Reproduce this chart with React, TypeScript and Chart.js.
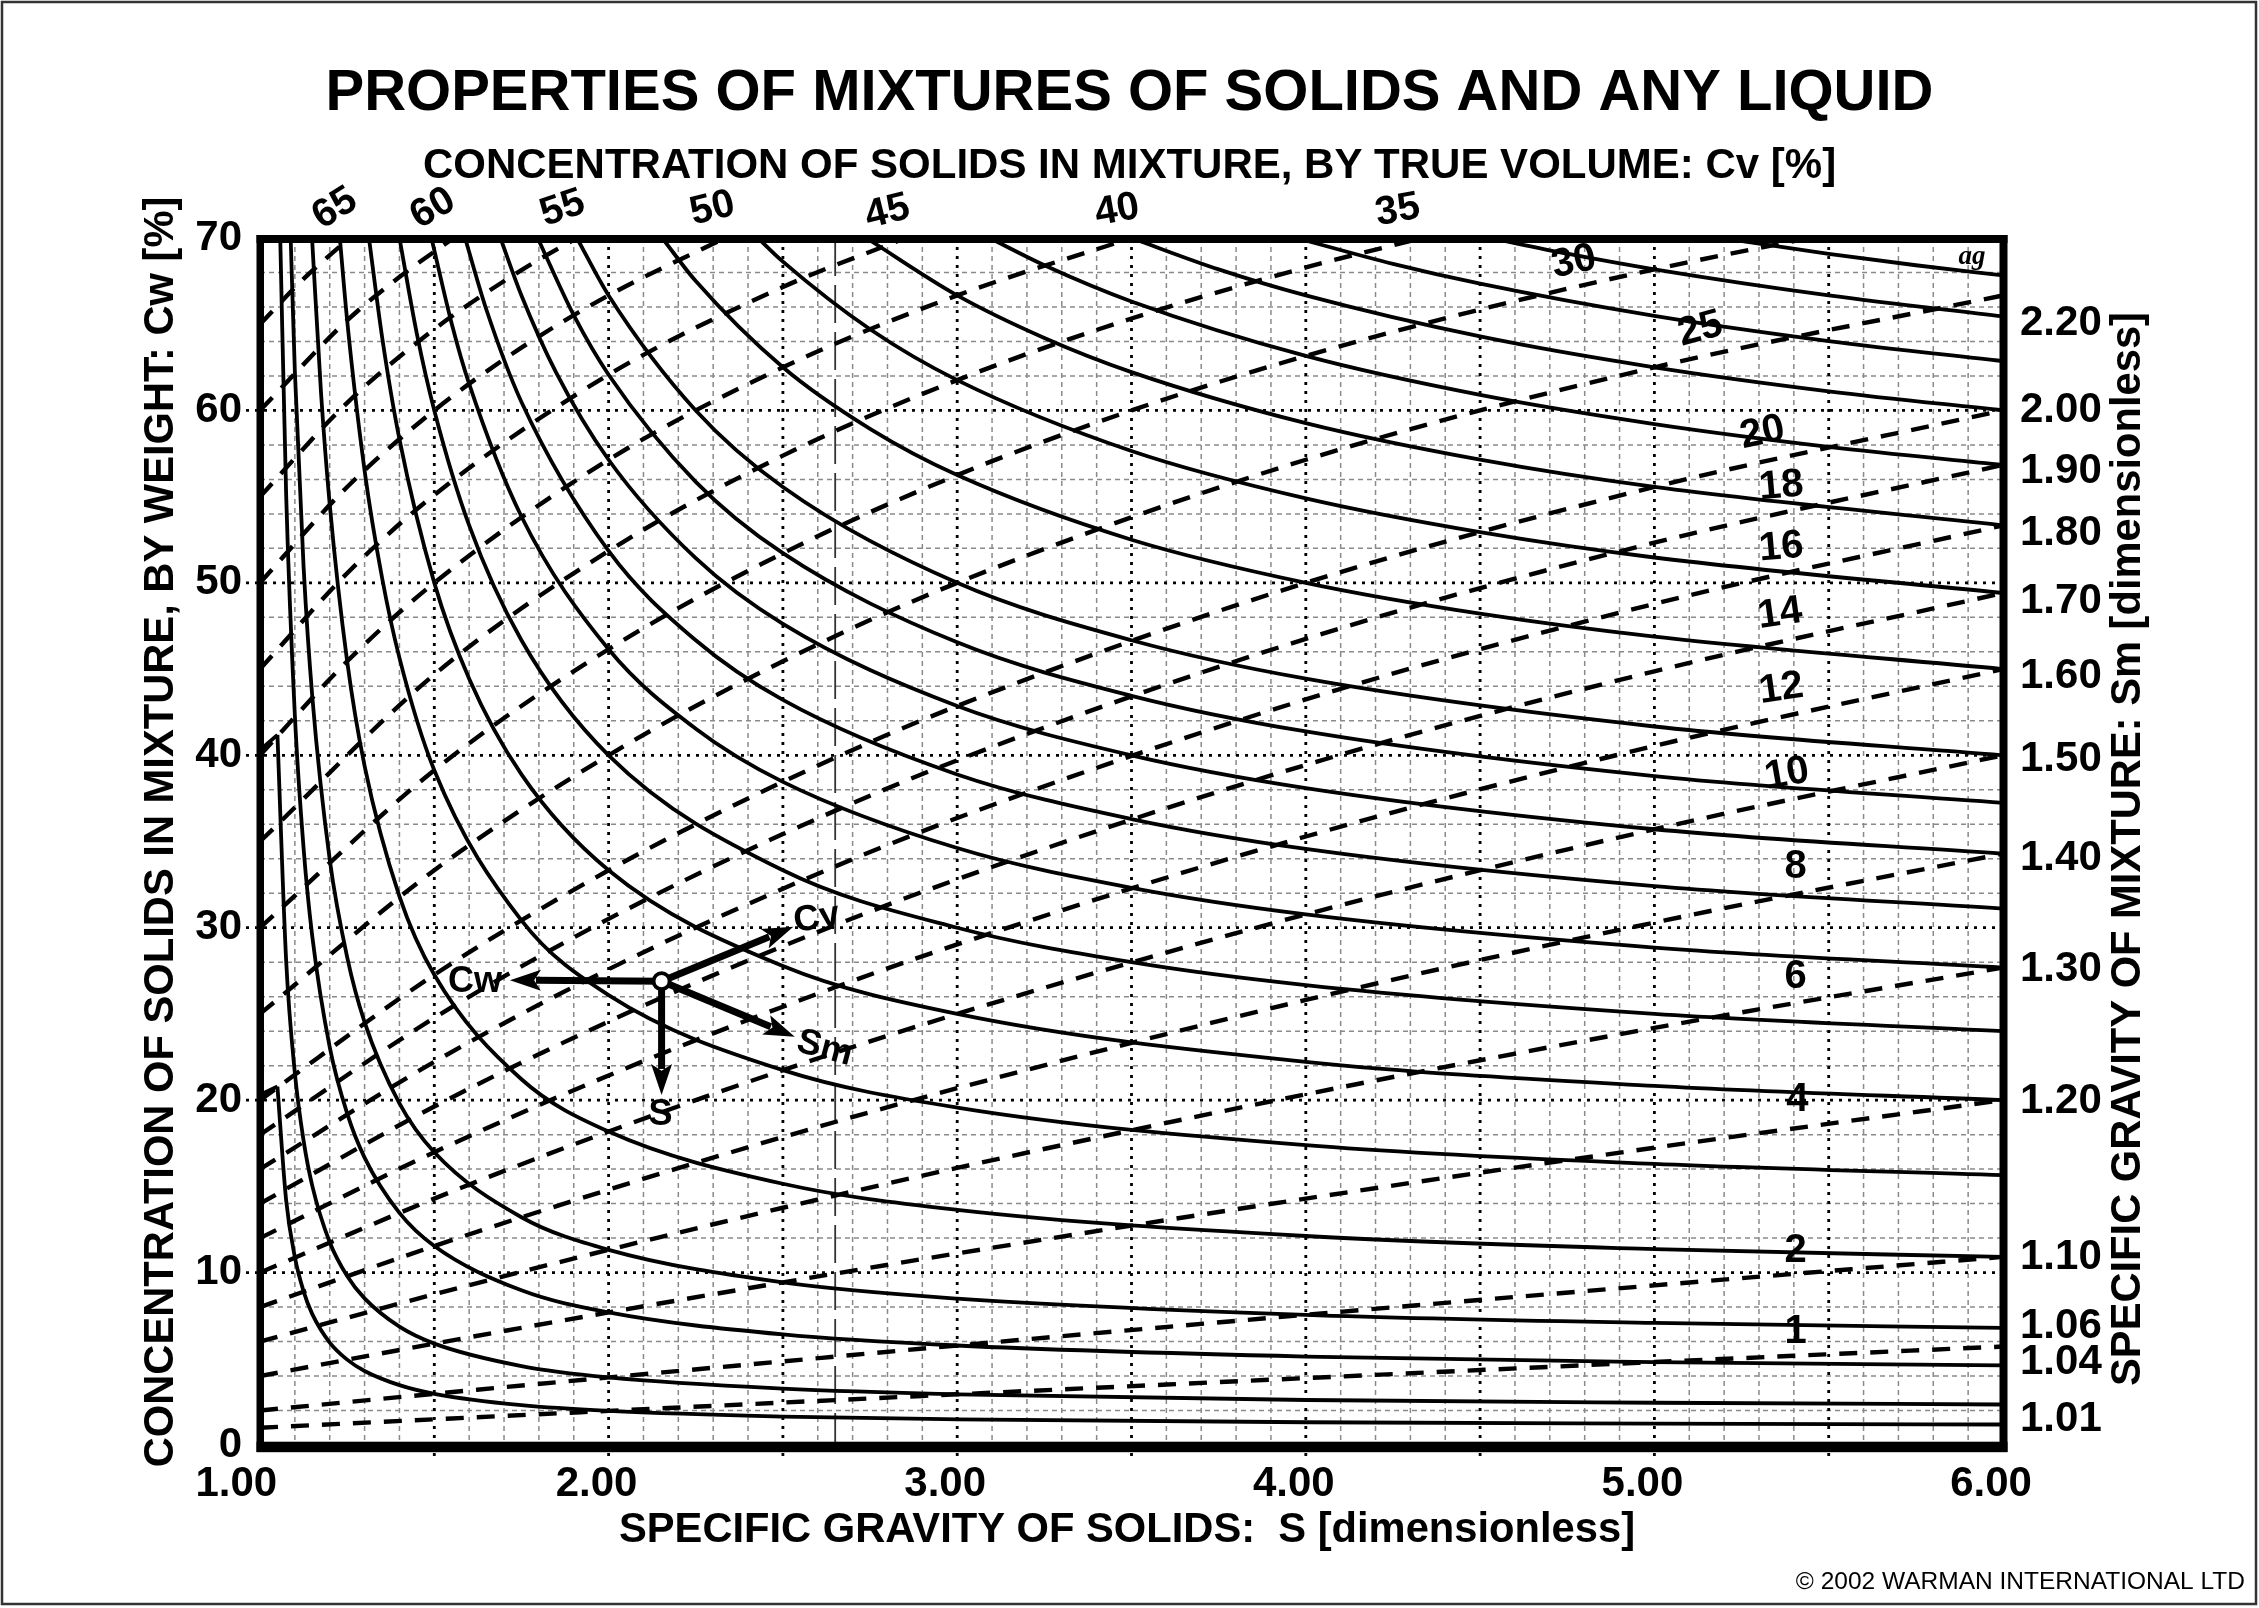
import React, { useEffect, useRef } from 'react';
import { Chart, registerables } from 'chart.js';

Chart.register(...registerables);

const SANS = '"Liberation Sans", Arial, Helvetica, sans-serif';
const SERIF = '"Liberation Serif", "Times New Roman", serif';

// ---------- texts ----------
const TITLE = 'PROPERTIES OF MIXTURES OF SOLIDS AND ANY LIQUID';
const SUBTITLE = 'CONCENTRATION OF SOLIDS IN MIXTURE, BY TRUE VOLUME: Cv [%]';
const X_TITLE = 'SPECIFIC GRAVITY OF SOLIDS:  S [dimensionless]';
const Y_TITLE = 'CONCENTRATION OF SOLIDS IN MIXTURE, BY WEIGHT: Cw [%]';
const Y2_TITLE = 'SPECIFIC GRAVITY OF MIXTURE: Sm [dimensionless]';
const COPYRIGHT = '\u00A9 2002 WARMAN INTERNATIONAL LTD';

// ---------- solid curves: constant Sm, points [S, Cw%] ----------
const SM_VALUES = ['1.01', '1.02', '1.04', '1.06', '1.10', '1.15', '1.20', '1.25', '1.30', '1.35', '1.40', '1.45', '1.50', '1.60', '1.70', '1.80', '1.90', '2.00', '2.10', '2.20', '2.30'];
const SM_101 = [[1.05, 20.79], [1.075, 14.19], [1.1, 10.89], [1.125, 8.91], [1.15, 7.59], [1.2, 5.94], [1.25, 4.95], [1.3, 4.29], [1.4, 3.47], [1.5, 2.97], [1.75, 2.31], [2, 1.98], [2.5, 1.65], [3, 1.49], [4, 1.32], [5, 1.24], [6, 1.19]];
const SM_102 = [[1.05, 41.18], [1.075, 28.1], [1.1, 21.57], [1.125, 17.65], [1.15, 15.03], [1.2, 11.76], [1.25, 9.8], [1.3, 8.5], [1.4, 6.86], [1.5, 5.88], [1.75, 4.58], [2, 3.92], [2.5, 3.27], [3, 2.94], [4, 2.61], [5, 2.45], [6, 2.35]];
const SM_104 = [[1.0581, 70], [1.075, 55.13], [1.1, 42.31], [1.125, 34.62], [1.15, 29.49], [1.2, 23.08], [1.25, 19.23], [1.3, 16.67], [1.4, 13.46], [1.5, 11.54], [1.75, 8.97], [2, 7.69], [2.5, 6.41], [3, 5.77], [4, 5.13], [5, 4.81], [6, 4.62]];
const SM_106 = [[1.088, 70], [1.1, 62.26], [1.125, 50.94], [1.15, 43.4], [1.2, 33.96], [1.25, 28.3], [1.3, 24.53], [1.4, 19.81], [1.5, 16.98], [1.75, 13.21], [2, 11.32], [2.5, 9.43], [3, 8.49], [4, 7.55], [5, 7.08], [6, 6.79]];
const SM_110 = [[1.1493, 70], [1.175, 61.04], [1.2, 54.55], [1.25, 45.45], [1.3, 39.39], [1.4, 31.82], [1.5, 27.27], [1.75, 21.21], [2, 18.18], [2.5, 15.15], [3, 13.64], [4, 12.12], [5, 11.36], [6, 10.91]];
const SM_115 = [[1.229, 70], [1.25, 65.22], [1.3, 56.52], [1.35, 50.31], [1.4, 45.65], [1.5, 39.13], [1.75, 30.43], [2, 26.09], [2.5, 21.74], [3, 19.57], [4, 17.39], [5, 16.3], [6, 15.65]];
const SM_120 = [[1.3125, 70], [1.35, 64.29], [1.4, 58.33], [1.5, 50.0], [1.6, 44.44], [1.75, 38.89], [2, 33.33], [2.5, 27.78], [3, 25.0], [4, 22.22], [5, 20.83], [6, 20.0]];
const SM_125 = [[1.4, 70], [1.45, 64.44], [1.5, 60.0], [1.6, 53.33], [1.75, 46.67], [2, 40.0], [2.5, 33.33], [3, 30.0], [3.5, 28.0], [4, 26.67], [5, 25.0], [6, 24.0]];
const SM_130 = [[1.4918, 70], [1.55, 65.03], [1.6, 61.54], [1.75, 53.85], [2, 46.15], [2.25, 41.54], [2.5, 38.46], [3, 34.62], [3.5, 32.31], [4, 30.77], [5, 28.85], [6, 27.69]];
const SM_135 = [[1.5882, 70], [1.65, 65.81], [1.75, 60.49], [2, 51.85], [2.25, 46.67], [2.5, 43.21], [3, 38.89], [3.5, 36.3], [4, 34.57], [5, 32.41], [6, 31.11]];
const SM_140 = [[1.6897, 70], [1.75, 66.67], [1.85, 62.18], [2, 57.14], [2.25, 51.43], [2.5, 47.62], [3, 42.86], [3.5, 40.0], [4, 38.1], [5, 35.71], [6, 34.29]];
const SM_145 = [[1.7965, 70], [1.9, 65.52], [2, 62.07], [2.25, 55.86], [2.5, 51.72], [3, 46.55], [3.5, 43.45], [4, 41.38], [5, 38.79], [6, 37.24]];
const SM_150 = [[1.9091, 70], [2, 66.67], [2.25, 60.0], [2.5, 55.56], [3, 50.0], [3.5, 46.67], [4, 44.44], [5, 41.67], [6, 40.0]];
const SM_160 = [[2.1538, 70], [2.25, 67.5], [2.5, 62.5], [2.75, 58.93], [3, 56.25], [3.5, 52.5], [4, 50.0], [4.5, 48.21], [5, 46.88], [6, 45.0]];
const SM_170 = [[2.4286, 70], [2.5, 68.63], [2.75, 64.71], [3, 61.76], [3.5, 57.65], [4, 54.9], [4.5, 52.94], [5, 51.47], [6, 49.41]];
const SM_180 = [[2.7391, 70], [3, 66.67], [3.25, 64.2], [3.5, 62.22], [4, 59.26], [4.5, 57.14], [5, 55.56], [6, 53.33]];
const SM_190 = [[3.093, 70], [3.25, 68.42], [3.5, 66.32], [4, 63.16], [4.5, 60.9], [5, 59.21], [5.5, 57.89], [6, 56.84]];
const SM_200 = [[3.5, 70], [3.75, 68.18], [4, 66.67], [4.5, 64.29], [5, 62.5], [5.5, 61.11], [6, 60.0]];
const SM_210 = [[3.973, 70], [4.25, 68.5], [4.5, 67.35], [5, 65.48], [5.5, 64.02], [6, 62.86]];
const SM_220 = [[4.5294, 70], [4.75, 69.09], [5, 68.18], [5.5, 66.67], [6, 65.45]];
const SM_230 = [[5.1935, 70], [5.5, 69.08], [5.75, 68.42], [6, 67.83]];
const SM_CURVES = [SM_101, SM_102, SM_104, SM_106, SM_110, SM_115, SM_120, SM_125, SM_130, SM_135, SM_140, SM_145, SM_150, SM_160, SM_170, SM_180, SM_190, SM_200, SM_210, SM_220, SM_230];
// short connector strokes at the top of the 1.01 and 1.02 curves
const SM_HOOKS = [[[1.0, 20.3], [1.05, 20.79]], [[1.0, 40.3], [1.05, 41.18]]];

// ---------- dashed lines: constant Cv, points [S, Cw%] ----------
const CV_VALUES = [1, 2, 4, 6, 8, 10, 12, 14, 16, 18, 20, 25, 30, 35, 40, 45, 50, 55, 60, 65];
const CV_1 = [[1, 1.0], [1.5, 1.49], [2, 1.98], [2.5, 2.46], [3, 2.94], [4, 3.88], [5, 4.81], [6, 5.71]];
const CV_2 = [[1, 2.0], [1.5, 2.97], [2, 3.92], [2.5, 4.85], [3, 5.77], [4, 7.55], [5, 9.26], [6, 10.91]];
const CV_4 = [[1, 4.0], [1.5, 5.88], [2, 7.69], [2.5, 9.43], [3, 11.11], [4, 14.29], [5, 17.24], [6, 20.0]];
const CV_6 = [[1, 6.0], [1.5, 8.74], [2, 11.32], [2.5, 13.76], [3, 16.07], [4, 20.34], [5, 24.19], [6, 27.69]];
const CV_8 = [[1, 8.0], [1.5, 11.54], [2, 14.81], [2.5, 17.86], [3, 20.69], [4, 25.81], [5, 30.3], [6, 34.29]];
const CV_10 = [[1, 10.0], [1.5, 14.29], [2, 18.18], [2.5, 21.74], [3, 25.0], [4, 30.77], [5, 35.71], [6, 40.0]];
const CV_12 = [[1, 12.0], [1.5, 16.98], [2, 21.43], [2.5, 25.42], [3, 29.03], [4, 35.29], [5, 40.54], [6, 45.0]];
const CV_14 = [[1, 14.0], [1.5, 19.63], [2, 24.56], [2.5, 28.93], [3, 32.81], [4, 39.44], [5, 44.87], [6, 49.41]];
const CV_16 = [[1, 16.0], [1.5, 22.22], [2, 27.59], [2.5, 32.26], [3, 36.36], [4, 43.24], [5, 48.78], [6, 53.33]];
const CV_18 = [[1, 18.0], [1.5, 24.77], [2, 30.51], [2.5, 35.43], [3, 39.71], [4, 46.75], [5, 52.33], [6, 56.84]];
const CV_20 = [[1, 20.0], [1.5, 27.27], [2, 33.33], [2.5, 38.46], [3, 42.86], [4, 50.0], [5, 55.56], [6, 60.0]];
const CV_25 = [[1, 25.0], [1.5, 33.33], [2, 40.0], [2.5, 45.45], [3, 50.0], [4, 57.14], [5, 62.5], [6, 66.67]];
const CV_30 = [[1, 30.0], [1.5, 39.13], [2, 46.15], [2.5, 51.72], [3, 56.25], [3.5, 60.0], [4, 63.16], [4.5, 65.85], [5, 68.18], [5.4444, 70]];
const CV_35 = [[1, 35.0], [1.5, 44.68], [2, 51.85], [2.5, 57.38], [3, 61.76], [3.5, 65.33], [4, 68.29], [4.3333, 70]];
const CV_40 = [[1, 40.0], [1.25, 45.45], [1.5, 50.0], [2, 57.14], [2.5, 62.5], [3, 66.67], [3.5, 70]];
const CV_45 = [[1, 45.0], [1.25, 50.56], [1.5, 55.1], [2, 62.07], [2.5, 67.16], [2.8519, 70]];
const CV_50 = [[1, 50.0], [1.25, 55.56], [1.5, 60.0], [1.75, 63.64], [2, 66.67], [2.3333, 70]];
const CV_55 = [[1, 55.0], [1.25, 60.44], [1.5, 64.71], [1.75, 68.14], [1.9091, 70]];
const CV_60 = [[1, 60.0], [1.25, 65.22], [1.4, 67.74], [1.5556, 70]];
const CV_65 = [[1, 65.0], [1.125, 67.63], [1.2564, 70]];
const CV_LINES = [CV_1, CV_2, CV_4, CV_6, CV_8, CV_10, CV_12, CV_14, CV_16, CV_18, CV_20, CV_25, CV_30, CV_35, CV_40, CV_45, CV_50, CV_55, CV_60, CV_65];

// Cv line labels (text, anchor in S / Cw, tilt in degrees)
const CV_LABEL_TEXT = ['1', '2', '4', '6', '8', '10', '12', '14', '16', '18', '20', '25', '30', '35', '40', '45', '50', '55', '60', '65'];
const CV_LABEL_S = [5.405, 5.405, 5.41, 5.405, 5.405, 5.38, 5.364, 5.36, 5.364, 5.364, 5.31, 5.132, 4.769, 4.264, 3.459, 2.8, 2.298, 1.868, 1.496, 1.215];
const CV_LABEL_CW = [6.55, 11.25, 20.0, 27.15, 33.55, 38.9, 43.85, 48.2, 52.05, 55.6, 58.7, 64.7, 68.6, 71.6, 71.6, 71.5, 71.7, 71.7, 71.7, 71.7];
const CV_LABEL_ANGLE = [0, 0, 0, 0, 0, -10, -8, -8, -5, -5, -12, -15, -12, -10, -10, -14, -14, -19, -30, -32];

// bottom S scale labels
const S_TICK_LABELS = ['1.00  ', '2.00', '3.00', '4.00', '5.00', '6.00'];

// right-hand Sm scale labels (at the Cw height where each sits)
const SM_TICK_LABELS = ['1.01', '1.04', '1.06', '1.10', '1.20', '1.30', '1.40', '1.50', '1.60', '1.70', '1.80', '1.90', '2.00', '2.20'];
const SM_TICK_CW = [1.5, 4.8, 6.9, 10.85, 19.9, 27.6, 34.0, 39.75, 44.6, 48.95, 52.85, 56.45, 60.0, 65.05];

// reference line (typical S of silica)
const REF_S = [2.65];

// key diagram: origin, arrow tips, labels (S, Cw)
const KEY_ORIGIN = [2.152, 26.9];
const KEY_TIPS = [[1.717, 26.96], [2.152, 20.3], [2.53, 30.05], [2.534, 23.67]];
const KEY_TEXT = ['Cw', 'S', 'Cv', 'Sm'];
const KEY_TEXT_POS = [[1.617, 26.86], [2.149, 19.13], [2.597, 30.54], [2.62, 23.0]];
const KEY_TEXT_ANGLE = [0, 0, -10, 15];

const AG_POS = [5.911, 68.88];

function txt(ctx: CanvasRenderingContext2D, s: string, x: number, y: number, font: string, align: CanvasTextAlign = 'center', angle = 0) {
  ctx.save();
  ctx.translate(x, y);
  if (angle) ctx.rotate((angle * Math.PI) / 180);
  ctx.font = font;
  ctx.textAlign = align;
  ctx.textBaseline = 'middle';
  ctx.fillStyle = '#000';
  ctx.fillText(s, 0, 0);
  ctx.restore();
}

function seg(ctx: CanvasRenderingContext2D, x0: number, y0: number, x1: number, y1: number) {
  ctx.beginPath();
  ctx.moveTo(x0, y0);
  ctx.lineTo(x1, y1);
  ctx.stroke();
}

function arrow(ctx: CanvasRenderingContext2D, x0: number, y0: number, x1: number, y1: number) {
  const ang = Math.atan2(y1 - y0, x1 - x0);
  const headLen = 31;
  const headW = 10.5;
  const bx = x1 - (headLen - 5) * Math.cos(ang);
  const by = y1 - (headLen - 5) * Math.sin(ang);
  ctx.lineWidth = 7;
  ctx.lineCap = 'butt';
  seg(ctx, x0, y0, bx, by);
  ctx.save();
  ctx.translate(x1, y1);
  ctx.rotate(ang);
  ctx.beginPath();
  ctx.moveTo(0, 0);
  ctx.lineTo(-headLen, -headW);
  ctx.lineTo(-headLen * 0.78, 0);
  ctx.lineTo(-headLen, headW);
  ctx.closePath();
  ctx.fill();
  ctx.restore();
}

const decor = {
  id: 'decor',
  beforeDraw(chart: any) {
    const { ctx, width, height } = chart;
    ctx.save();
    ctx.fillStyle = '#fff';
    ctx.fillRect(0, 0, width, height);
    ctx.restore();
  },
  beforeDatasetsDraw(chart: any) {
    const ctx: CanvasRenderingContext2D = chart.ctx;
    const a = chart.chartArea;
    const xs = chart.scales.x;
    const ys = chart.scales.y;
    ctx.save();
    ctx.lineCap = 'butt';
    // minor grid
    ctx.strokeStyle = '#8a8a8a';
    ctx.lineWidth = 1.5;
    ctx.setLineDash([5, 4]);
    for (let i = 11; i < 60; i++) {
      if (i % 5 === 0) continue;
      const px = xs.getPixelForValue(i / 10);
      seg(ctx, px, a.top, px, a.bottom);
    }
    for (let c = 2; c < 70; c += 2) {
      if (c % 10 === 0) continue;
      const py = ys.getPixelForValue(c);
      seg(ctx, a.left, py, a.right, py);
    }
    // major grid (dotted), extending out as ticks
    ctx.strokeStyle = '#000';
    ctx.lineWidth = 2.8;
    ctx.setLineDash([3, 6]);
    for (let i = 15; i < 60; i += 5) {
      const px = xs.getPixelForValue(i / 10);
      seg(ctx, px, a.top, px, a.bottom + 14);
    }
    for (let c = 10; c < 70; c += 10) {
      const py = ys.getPixelForValue(c);
      seg(ctx, a.left - 14, py, a.right, py);
    }
    // reference line
    ctx.strokeStyle = '#333';
    ctx.lineWidth = 1.8;
    ctx.setLineDash([38, 9]);
    REF_S.forEach((s) => {
      const px = xs.getPixelForValue(s);
      seg(ctx, px, a.top, px, a.bottom);
    });
    ctx.restore();
  },
  afterDatasetsDraw(chart: any) {
    const ctx: CanvasRenderingContext2D = chart.ctx;
    const xs = chart.scales.x;
    const ys = chart.scales.y;
    const X = (v: number) => xs.getPixelForValue(v);
    const Y = (v: number) => ys.getPixelForValue(v);
    ctx.save();
    // frame
    const L = X(1), R = X(6), T = Y(70), B = Y(0);
    ctx.fillStyle = '#000';
    ctx.fillRect(L - 3.5, T - 3, 7.5, B - T + 10);
    ctx.fillRect(R - 3.5, T - 3, 8, B - T + 10);
    ctx.fillRect(L - 3.5, T - 3, R - L + 8, 8);
    ctx.fillRect(L - 3.5, B - 3.3, R - L + 8, 10.5);

    // Cv labels
    CV_LABEL_TEXT.forEach((t, i) => {
      txt(ctx, t, X(CV_LABEL_S[i]), Y(CV_LABEL_CW[i]), `bold 40px ${SANS}`, 'center', CV_LABEL_ANGLE[i]);
    });

    // key diagram
    ctx.fillStyle = '#000';
    ctx.strokeStyle = '#000';
    const ox = X(KEY_ORIGIN[0]);
    const oy = Y(KEY_ORIGIN[1]);
    KEY_TIPS.forEach((p) => arrow(ctx, ox, oy, X(p[0]), Y(p[1])));
    ctx.beginPath();
    ctx.arc(ox, oy, 8, 0, Math.PI * 2);
    ctx.fillStyle = '#fff';
    ctx.fill();
    ctx.lineWidth = 3.8;
    ctx.strokeStyle = '#000';
    ctx.stroke();
    KEY_TEXT.forEach((t, i) => {
      txt(ctx, t, X(KEY_TEXT_POS[i][0]), Y(KEY_TEXT_POS[i][1]), `bold 36px ${SANS}`, 'center', KEY_TEXT_ANGLE[i]);
    });

    txt(ctx, 'ag', X(AG_POS[0]), Y(AG_POS[1]), `italic bold 27px ${SERIF}`, 'center');
    ctx.restore();
  },
  afterDraw(chart: any) {
    const ctx: CanvasRenderingContext2D = chart.ctx;
    ctx.save();
    txt(ctx, TITLE, 1129.5, 94, `bold 58px ${SANS}`);
    txt(ctx, SUBTITLE, 1129.5, 166, `bold 42px ${SANS}`);
    txt(ctx, Y_TITLE, 162, 832, `bold 41.7px ${SANS}`, 'center', -90);
    txt(ctx, Y2_TITLE, 2129, 849, `bold 41.7px ${SANS}`, 'center', -90);
    txt(ctx, X_TITLE, 1127, 1531, `bold 41.7px ${SANS}`);
    txt(ctx, COPYRIGHT, 2245, 1582, `24.5px ${SANS}`, 'right');
    ctx.strokeStyle = '#333';
    ctx.lineWidth = 2.5;
    ctx.strokeRect(2, 2, 2254, 1602);
    ctx.restore();
  },
};

export default function App() {
  const ref = useRef<HTMLCanvasElement>(null);
  useEffect(() => {
    document.body.style.margin = '0';
    document.body.style.overflow = 'hidden';
    const canvas = ref.current as HTMLCanvasElement;
    const datasets: any[] = [];
    CV_LINES.forEach((pts, i) => {
      datasets.push({
        label: 'Cv ' + CV_VALUES[i] + '%',
        data: pts,
        borderColor: '#000',
        borderWidth: 4.4,
        borderDash: [18, 13],
        borderCapStyle: 'butt',
        pointRadius: 0,
        cubicInterpolationMode: 'monotone',
        fill: false,
      });
    });
    SM_CURVES.forEach((pts, i) => {
      datasets.push({
        label: 'Sm ' + SM_VALUES[i],
        data: pts,
        borderColor: '#000',
        borderWidth: 3.8,
        pointRadius: 0,
        cubicInterpolationMode: 'monotone',
        fill: false,
      });
    });
    SM_HOOKS.forEach((pts, i) => {
      datasets.push({
        label: 'hook ' + SM_VALUES[i],
        data: pts,
        borderColor: '#000',
        borderWidth: 3.8,
        pointRadius: 0,
        tension: 0,
        fill: false,
      });
    });
    const tickFont = { family: SANS, weight: 'bold' as const, size: 42 };
    const chart = new Chart(canvas, {
      type: 'line',
      data: { datasets },
      plugins: [decor],
      options: {
        responsive: false,
        animation: false,
        devicePixelRatio: 1,
        events: [],
        layout: { padding: { top: 238, left: 0, right: 0, bottom: 0 } },
        plugins: { legend: { display: false }, tooltip: { enabled: false } },
        scales: {
          x: {
            type: 'linear',
            min: 1,
            max: 6,
            afterFit: (s: any) => { s.height = 163; },
            grid: { display: false, drawTicks: false },
            border: { display: false },
            ticks: {
              stepSize: 1,
              autoSkip: false,
              maxRotation: 0,
              padding: 14,
              labelOffset: -12,
              color: '#000',
              font: tickFont,
              callback: (_v: any, i: number) => S_TICK_LABELS[i],
            },
          },
          y: {
            type: 'linear',
            position: 'left',
            min: 0,
            max: 70,
            afterFit: (s: any) => { s.width = 260; },
            grid: { display: false, drawTicks: false },
            border: { display: false },
            ticks: { stepSize: 10, autoSkip: false, padding: 18, color: '#000', font: tickFont },
          },
          y2: {
            type: 'linear',
            position: 'right',
            min: 0,
            max: 70,
            afterFit: (s: any) => { s.width = 256; },
            afterBuildTicks: (s: any) => { s.ticks = SM_TICK_CW.map((v) => ({ value: v })); },
            grid: { display: false, drawTicks: false },
            border: { display: false },
            ticks: {
              autoSkip: false,
              padding: 17,
              color: '#000',
              font: tickFont,
              callback: (_v: any, i: number) => SM_TICK_LABELS[i],
            },
          },
        },
      } as any,
    });
    return () => chart.destroy();
  }, []);
  return (
    <div style={{ position: 'absolute', left: 0, top: 0, width: 2259, height: 1608, background: '#fff' }}>
      <canvas ref={ref} width={2259} height={1608} style={{ display: 'block', width: 2259, height: 1608 }} />
    </div>
  );
}
